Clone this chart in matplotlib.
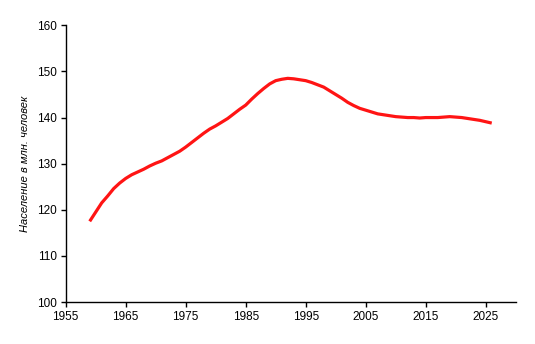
import matplotlib
matplotlib.use("Agg")
import matplotlib.pyplot as plt

# Население России, млн. человек (оценка по графику)
years = list(range(1959, 2027))
population = [
    117.5, 119.5, 121.5, 123.0, 124.6, 125.8, 126.8, 127.6, 128.2, 128.8,
    129.5, 130.1, 130.6, 131.3, 132.0, 132.7, 133.6, 134.6, 135.6, 136.6,
    137.5, 138.2, 139.0, 139.8, 140.8, 141.8, 142.7, 144.0, 145.2, 146.3,
    147.3, 148.0, 148.3, 148.5, 148.4, 148.2, 148.0, 147.6, 147.1, 146.6,
    145.8, 145.0, 144.2, 143.3, 142.6, 142.0, 141.6, 141.2, 140.8, 140.6,
    140.4, 140.2, 140.1, 140.0, 140.0, 139.9, 140.0, 140.0, 140.0, 140.1,
    140.2, 140.1, 140.0, 139.8, 139.6, 139.4, 139.1, 138.8,
]
x_ticks = [1955, 1965, 1975, 1985, 1995, 2005, 2015, 2025]
y_ticks = [100, 110, 120, 130, 140, 150, 160]

plt.rcParams['font.family'] = ['Liberation Sans', 'DejaVu Sans']

fig = plt.figure(figsize=(5.35, 3.44), dpi=100)
ax = fig.add_axes([0.1228, 0.122, 0.8412, 0.8044])

ax.plot(years, population, color='#ff1414', linewidth=2.3, solid_capstyle='butt')

ax.set_xlim(1955, 2030)
ax.set_ylim(100, 160)
ax.set_xticks(x_ticks)
ax.set_yticks(y_ticks)
ax.tick_params(direction='out', length=3.5, width=1, labelsize=8.5, pad=3)
for side in ['top', 'right']:
    ax.spines[side].set_visible(False)
for side in ['left', 'bottom']:
    ax.spines[side].set_linewidth(1)

ax.set_ylabel('Население в млн. человек', fontsize=8, style='italic', labelpad=5)

fig.savefig('out.png', dpi=100)
